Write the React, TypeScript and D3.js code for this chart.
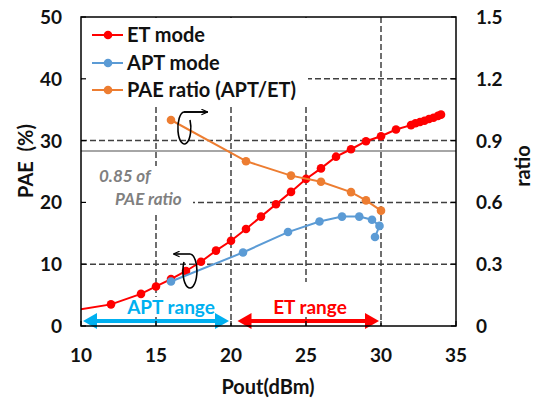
import React from "react";
import * as d3 from "d3";

// ET-mode PAE vs output power
const etPout = [9, 12, 14, 15, 16, 17, 18, 19, 20, 21, 22, 23, 24, 25, 26, 27, 28, 29, 30, 31, 32, 32.3, 32.6, 32.9, 33.2, 33.5, 33.8, 34];
const etPae = [2.3, 3.5, 5.2, 6.4, 7.6, 8.9, 10.4, 12.2, 13.8, 15.7, 17.7, 19.7, 21.7, 23.8, 25.5, 27.4, 28.6, 29.9, 30.7, 31.8, 32.5, 32.8, 33.0, 33.2, 33.5, 33.7, 34.0, 34.2];

// APT-mode PAE vs output power
const aptPout = [16, 20.8, 23.8, 25.9, 27.4, 28.55, 29.4, 29.9, 29.6];
const aptPae = [7.2, 11.9, 15.2, 16.9, 17.7, 17.7, 17.2, 16.2, 14.4];

// PAE ratio (APT/ET)
const ratioPout = [16, 21, 24, 26, 28, 29, 30];
const ratioVal = [1.0, 0.8, 0.73, 0.7, 0.65, 0.61, 0.56];

const xTicks = [10, 15, 20, 25, 30, 35];
const yTicks = [0, 10, 20, 30, 40, 50];
const rTicks = [0, 0.3, 0.6, 0.9, 1.2, 1.5];
const ratioThreshold = 0.85;

const W = 542;
const H = 399;
const L = 81, R = 456, T = 17, B = 326;

const FONT = "Lato, 'Open Sans', sans-serif";
const RED = "#FF0000";
const BLUE = "#5B9BD5";
const ORANGE = "#ED7D31";
const CYAN = "#00B0F0";
const GRID = "#404040";

export default function App() {
  const x = d3.scaleLinear().domain([10, 35]).range([L, R]);
  const y = d3.scaleLinear().domain([0, 50]).range([B, T]);
  const yr = d3.scaleLinear().domain([0, 1.5]).range([B, T]);

  const et = etPout.map((p, i) => [p, etPae[i]] as [number, number]);
  const apt = aptPout.map((p, i) => [p, aptPae[i]] as [number, number]);
  const rat = ratioPout.map((p, i) => [p, ratioVal[i]] as [number, number]);

  const lineL = d3.line<[number, number]>().x((d) => x(d[0])).y((d) => y(d[1]));
  const lineR = d3.line<[number, number]>().x((d) => x(d[0])).y((d) => yr(d[1]));

  const gridX = [15, 20, 25, 30];
  const gridY = [10, 20, 30, 40];

  const arrowY = 321;

  return (
    <svg width={W} height={H} style={{ position: "absolute", left: 0, top: 0, background: "#fff" }}>
      <defs>
        <clipPath id="plot">
          <rect x={L} y={T} width={R - L} height={B - T} />
        </clipPath>
        <marker id="headBlk" viewBox="0 0 10 10" refX="8" refY="5" markerWidth="7" markerHeight="7" orient="auto-start-reverse" markerUnits="userSpaceOnUse">
          <path d="M0,1 L9,5 L0,9" fill="none" stroke="#000" strokeWidth="1.6" />
        </marker>
      </defs>
      <rect x={0} y={0} width={W} height={H} fill="#fff" />

      {/* dashed grid */}
      <g stroke={GRID} strokeWidth={1.5} strokeDasharray="6,3">
        {gridX.map((v) => (
          <line key={"gx" + v} x1={x(v)} x2={x(v)} y1={T} y2={B} />
        ))}
        {gridY.map((v) => (
          <line key={"gy" + v} x1={L} x2={R} y1={y(v)} y2={y(v)} />
        ))}
      </g>

      {/* 0.85 ratio reference line */}
      <line x1={L} x2={R} y1={yr(ratioThreshold)} y2={yr(ratioThreshold)} stroke="#A6A6A6" strokeWidth={2} />

      {/* label boxes masking the grid */}
      <rect x={L + 1} y={T + 1} width={226} height={87} fill="#fff" />
      <rect x={L + 1} y={166} width={111} height={46} fill="#fff" />
      <rect x={126} y={297} width={90} height={20} fill="#fff" />
      <rect x={271} y={282} width={78} height={35} fill="#fff" />

      <text x={99} y={182} fontFamily={FONT} fontSize={17} fontStyle="italic" fontWeight="bold" fill="#808080">0.85 of</text>
      <text x={115} y={205} fontFamily={FONT} fontSize={17} fontStyle="italic" fontWeight="bold" fill="#808080">PAE ratio</text>

      {/* series */}
      <g clipPath="url(#plot)">
        <path d={lineL(et) ?? ""} fill="none" stroke={RED} strokeWidth={2} />
        {et.map((d, i) => (
          <circle key={"e" + i} cx={x(d[0])} cy={y(d[1])} r={4.3} fill={RED} />
        ))}
        <path d={lineL(apt) ?? ""} fill="none" stroke={BLUE} strokeWidth={2} />
        {apt.map((d, i) => (
          <circle key={"a" + i} cx={x(d[0])} cy={y(d[1])} r={4.3} fill={BLUE} />
        ))}
        <path d={lineR(rat) ?? ""} fill="none" stroke={ORANGE} strokeWidth={2} />
        {rat.map((d, i) => (
          <circle key={"r" + i} cx={x(d[0])} cy={yr(d[1])} r={4.3} fill={ORANGE} />
        ))}
      </g>

      {/* axis hint loops */}
      <path d="M208,112 L184,112 A6.5,16 0 1,0 190,120" fill="none" stroke="#000" strokeWidth={1.6} />
      <path d="M184,112 L207,112" fill="none" stroke="#000" strokeWidth={1.6} markerEnd="url(#headBlk)" />
      <path d="M190,254 A7,17 0 1,1 184,262" fill="none" stroke="#000" strokeWidth={1.6} />
      <path d="M190,254 L174,254" fill="none" stroke="#000" strokeWidth={1.6} markerEnd="url(#headBlk)" />

      {/* range arrows */}
      <g>
        <line x1={x(10) + 12} x2={x(20) - 12} y1={arrowY} y2={arrowY} stroke={CYAN} strokeWidth={4} />
        <path d={`M${x(10) + 2},${arrowY} L${x(10) + 16},${arrowY - 8} L${x(10) + 16},${arrowY + 8} Z`} fill={CYAN} />
        <path d={`M${x(20) - 2},${arrowY} L${x(20) - 16},${arrowY - 8} L${x(20) - 16},${arrowY + 8} Z`} fill={CYAN} />
        <text x={171} y={314} textAnchor="middle" fontFamily={FONT} fontSize={19} fontWeight="bold" fill={CYAN}>APT range</text>

        <line x1={x(20.3) + 12} x2={x(30) - 12} y1={arrowY} y2={arrowY} stroke={RED} strokeWidth={4} />
        <path d={`M${x(20.3) + 2},${arrowY} L${x(20.3) + 16},${arrowY - 8} L${x(20.3) + 16},${arrowY + 8} Z`} fill={RED} />
        <path d={`M${x(30) - 2},${arrowY} L${x(30) - 16},${arrowY - 8} L${x(30) - 16},${arrowY + 8} Z`} fill={RED} />
        <text x={310} y={314} textAnchor="middle" fontFamily={FONT} fontSize={19} fontWeight="bold" fill={RED}>ET range</text>
      </g>

      {/* frame and inner ticks */}
      <rect x={L} y={T} width={R - L} height={B - T} fill="none" stroke="#000" strokeWidth={1.5} />
      <g stroke="#000" strokeWidth={1.2}>
        {xTicks.map((v) => (
          <line key={"tx" + v} x1={x(v)} x2={x(v)} y1={B} y2={B - 5} />
        ))}
        {yTicks.map((v) => (
          <line key={"ty" + v} x1={L} x2={L + 5} y1={y(v)} y2={y(v)} />
        ))}
        {rTicks.map((v) => (
          <line key={"tr" + v} x1={R} x2={R - 5} y1={yr(v)} y2={yr(v)} />
        ))}
      </g>

      {/* tick labels */}
      <g fontFamily={FONT} fontSize={19} fontWeight="bold" fill="#111">
        {xTicks.map((v) => (
          <text key={"lx" + v} x={x(v)} y={362} textAnchor="middle">{v}</text>
        ))}
        {yTicks.map((v) => (
          <text key={"ly" + v} x={62} y={y(v) + 7} textAnchor="end">{v}</text>
        ))}
        {rTicks.map((v) => (
          <text key={"lr" + v} x={476} y={yr(v) + 7} textAnchor="start">{v === 0 ? "0" : d3.format(".1f")(v)}</text>
        ))}
      </g>

      {/* axis titles */}
      <g fontFamily={FONT} fontSize={20} fontWeight="bold" fill="#111">
        <text x={268} y={394} textAnchor="middle">Pout(dBm)</text>
        <text transform="translate(33,161) rotate(-90)" textAnchor="middle">{"PAE\u00A0\u00A0(%)"}</text>
        <text transform="translate(530,166) rotate(-90)" textAnchor="middle">ratio</text>
      </g>

      {/* legend */}
      <g fontFamily={FONT} fontSize={20} fontWeight="bold" fill="#111">
        {[
          { label: "ET mode", color: RED, yy: 35 },
          { label: "APT mode", color: BLUE, yy: 63 },
          { label: "PAE ratio (APT/ET)", color: ORANGE, yy: 90 },
        ].map((it) => (
          <g key={it.label}>
            <line x1={92} x2={123} y1={it.yy} y2={it.yy} stroke={it.color} strokeWidth={2} />
            <circle cx={108} cy={it.yy} r={4.3} fill={it.color} />
            <text x={127} y={it.yy + 7}>{it.label}</text>
          </g>
        ))}
      </g>
    </svg>
  );
}
